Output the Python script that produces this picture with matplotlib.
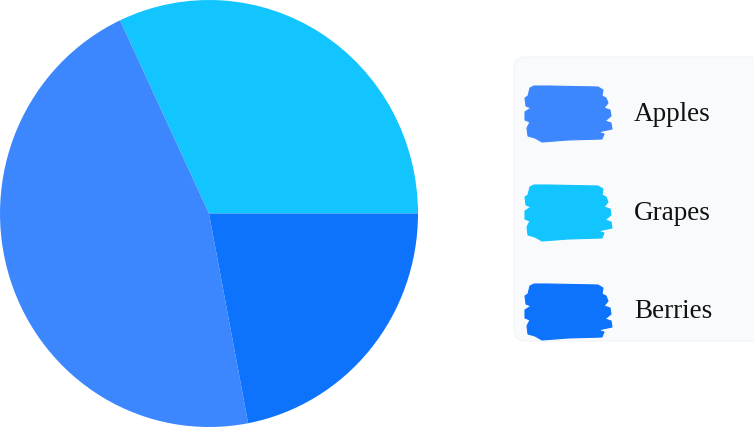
import matplotlib
matplotlib.use("Agg")
import matplotlib.pyplot as plt
from matplotlib.patches import FancyBboxPatch, Polygon

labels = ["Apples", "Grapes", "Berries"]
values = [46, 32, 22]
colors = ["#3c87fe", "#12c5ff", "#0d72fc"]

# counter-clockwise drawing order starting at 3 o'clock
draw_order = [1, 0, 2]

W, H = 754, 428
fig = plt.figure(figsize=(W / 100, H / 100), dpi=100)
fig.patch.set_facecolor("white")

# pie fills a slightly taller-than-wide box, like the hand-drawn original
pie_ax = fig.add_axes([0 / W, (H - 427) / H, 418 / W, 427 / H])
pie_ax.pie([values[i] for i in draw_order],
           colors=[colors[i] for i in draw_order],
           startangle=0, counterclock=True, radius=1,
           wedgeprops=dict(linewidth=0))
pie_ax.set_xlim(-1, 1)
pie_ax.set_ylim(-1, 1)
pie_ax.set_aspect("auto")
pie_ax.axis("off")

ax = fig.add_axes([0, 0, 1, 1])
ax.set_xlim(0, W)
ax.set_ylim(0, H)
ax.axis("off")

# legend panel
panel = FancyBboxPatch((514, H - 341), 250, 284,
                       boxstyle="round,pad=0,rounding_size=12",
                       facecolor="#f8fafc", edgecolor="#f1f4f8", linewidth=0.8)
ax.add_patch(panel)

# brush-stroke style swatch outline (relative to swatch centre)
stroke = [(-38, 26), (-40, 18), (-43, 16), (-42, 8), (-37, 6), (-43, 2),
          (-43, -6), (-38, -8), (-41, -14), (-40, -22), (-33, -24),
          (-26, -28), (0, -26), (34, -25), (36, -20), (30, -18),
          (44, -15), (43, -9), (37, -7), (43, -2), (42, 4), (36, 6),
          (40, 11), (38, 16), (34, 18), (35, 24), (30, 27), (-20, 28),
          (-34, 28)]

legend_y = [114, 213, 312]
for lab, col, yy in zip(labels, colors, legend_y):
    cy = H - yy
    pts = [(568 + dx, cy + dy) for dx, dy in stroke]
    ax.add_patch(Polygon(pts, closed=True, facecolor=col, edgecolor=col,
                         linewidth=0.8, joinstyle="round"))
    ax.text(634, cy, lab, fontsize=19.5, family="Liberation Serif",
            color="#111111", va="center", ha="left")

fig.savefig("out.png", dpi=100, facecolor="white")
